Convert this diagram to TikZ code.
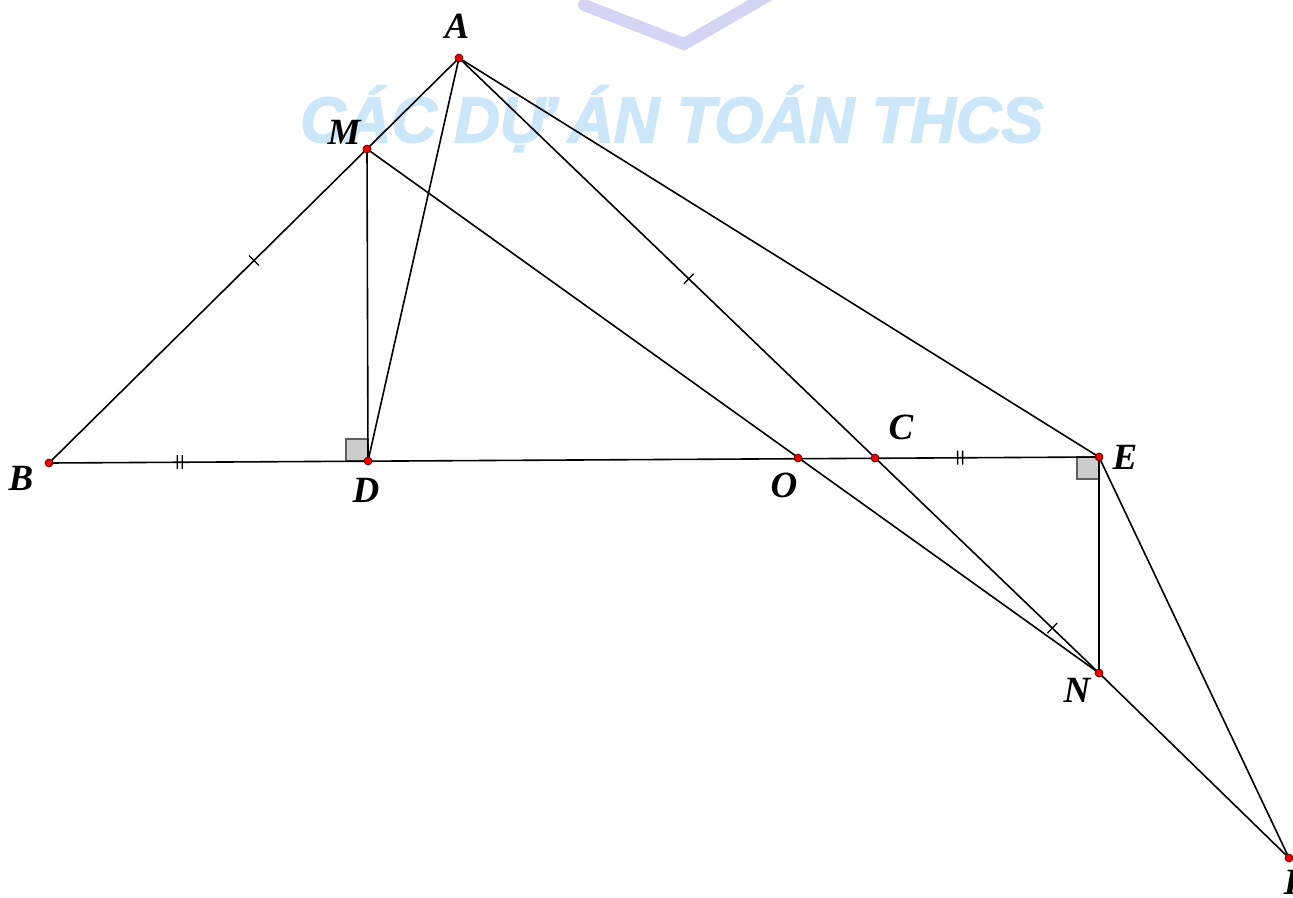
\documentclass[tikz,border=0pt]{standalone}
\usepackage{fontspec}
\setmainfont{Liberation Serif}
\newfontfamily\wmfont[FakeBold=2.5]{Liberation Sans}
\usetikzlibrary{calc}
\definecolor{wmblue}{RGB}{204,230,250}
\definecolor{logocol}{RGB}{212,212,245}
\definecolor{ptred}{RGB}{235,0,0}
\definecolor{rafill}{RGB}{205,205,205}
\definecolor{radraw}{RGB}{95,95,95}
\newcommand\sticks[3]{%
  \coordinate (tt) at ($(#1)!#3!(#2)$);
  \draw[tickln] ($(tt)!7pt!90:(#2)$) -- ($(tt)!7pt!-90:(#2)$);}
\newcommand\dticks[3]{%
  \coordinate (tt) at ($(#1)!#3!(#2)$);
  \coordinate (t1) at ($(tt)!-2.5pt!(#2)$);
  \coordinate (t2) at ($(tt)!2.5pt!(#2)$);
  \draw[tickln] ($(t1)!7pt!90:(#2)$) -- ($(t1)!7pt!-90:(#2)$);
  \draw[tickln] ($(t2)!7pt!90:(#2)$) -- ($(t2)!7pt!-90:(#2)$);}
\begin{document}
\begin{tikzpicture}[x=1pt,y=-1pt,
  seg/.style={line width=1.6pt,black},
  lbl/.style={font=\fontsize{37}{37}\selectfont\bfseries\itshape, inner sep=0pt},
  pt/.style={circle, fill=ptred, draw=black!60!red, line width=0.7pt, inner sep=0pt, minimum size=8pt},
  tickln/.style={line width=1.3pt},
  rightang/.style={fill=rafill, draw=radraw, line width=1.3pt}]
\useasboundingbox (0,0) rectangle (1293,897);
% watermark logo and text
\draw[logocol, line width=12pt, line cap=round] (584,5) -- (684,44) -- (778,-10);
\node[anchor=base west, text=wmblue, inner sep=0pt, xscale=0.985,
      font=\wmfont\bfseries\itshape\fontsize{64}{64}\selectfont] (wm) at (300,142) {CÁC DỰ ÁN TOÁN THCS};
% points
\coordinate (A) at (459,58);
\coordinate (M) at (367,149);
\coordinate (B) at (49,463);
\coordinate (D) at (368,461);
\coordinate (O) at (798,458);
\coordinate (C) at (875,458);
\coordinate (E) at (1099,457);
\coordinate (N) at (1099,673);
\coordinate (I) at (1289,858);
% right angles
\draw[rightang] ($(D)+(-22,0)$) rectangle ($(D)+(0,-22)$);
\draw[rightang] ($(E)+(-22,0)$) rectangle ($(E)+(0,22)$);
% segments
\draw[seg] (B) -- (A);
\draw[seg] (M) -- (D);
\draw[seg] (A) -- (D);
\draw[seg] (A) -- (N);
\draw[seg] (A) -- (E);
\draw[seg] (B) -- (E);
\draw[seg] (M) -- (N);
\draw[seg] (E) -- (N);
\draw[seg] (N) -- (I);
\draw[seg] (E) -- (I);
% ticks
\sticks{B}{A}{0.5}
\sticks{A}{N}{0.359}
\sticks{A}{N}{0.927}
\dticks{B}{D}{0.41}
\dticks{C}{E}{0.38}
% dots
\foreach \p in {A,M,B,D,O,C,E,N,I} \node[pt] (d\p) at (\p) {};
% labels
\node[lbl] (lA) at (457,26) {A};
\node[lbl] (lM) at (344,132) {M};
\node[lbl] (lB) at (21,478) {B};
\node[lbl] (lD) at (366,490) {D};
\node[lbl] (lO) at (784,485) {O};
\node[lbl] (lC) at (901,427) {C};
\node[lbl] (lE) at (1125,457) {E};
\node[lbl] (lN) at (1077,690) {N};
\node[lbl] (lI) at (1291,882) {I};
\end{tikzpicture}
\end{document}
